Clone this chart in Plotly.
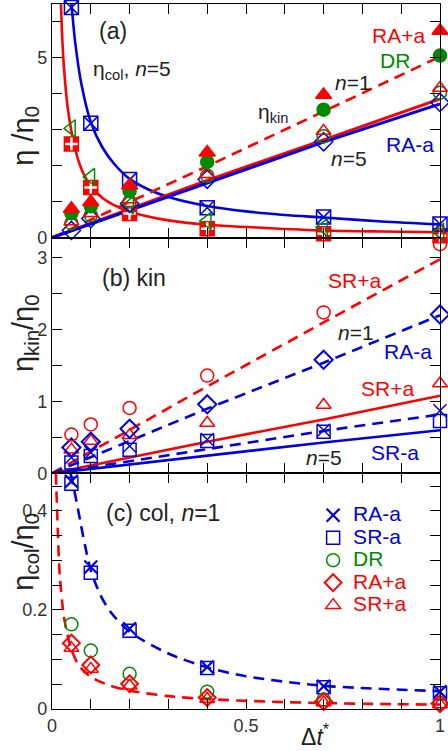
import plotly.graph_objects as go
from plotly.subplots import make_subplots

# ---------------- data ----------------
dt = [0.05, 0.1, 0.2, 0.4, 0.7, 1.0]

# panel (a): eta/eta0
a_col5_minus = [6.38, 3.17, 1.61, 0.83, 0.57, 0.38]
a_col5_plus = [2.6, 1.39, 0.67, 0.25, 0.11, 0.05]
a_col5_dr = [3.03, 1.68, 0.90, 0.46, 0.29, 0.16]
a_kin1_ra_plus = [0.80, 0.99, 1.45, 2.36, 3.96, 5.74]
a_kin1_dr = [0.68, 0.87, 1.29, 2.10, 3.55, 5.05]
a_kin5_sr_plus = [0.45, 0.68, 1.06, 1.76, 2.96, 4.15]
a_kin5_dr = [0.40, 0.62, 1.00, 1.72, 2.81, 4.02]
a_kin5_ra_minus = [0.20, 0.53, 0.95, 1.62, 2.66, 3.75]

a_curve_blue_x = [0.05, 0.06, 0.075, 0.1, 0.13, 0.16, 0.2, 0.25, 0.3, 0.4, 0.5, 0.6, 0.7, 0.85, 1.0]
a_curve_blue_y = [6.5, 5.4, 4.3, 3.2, 2.5, 2.05, 1.63, 1.33, 1.13, 0.88, 0.73, 0.63, 0.56, 0.45, 0.37]
a_curve_red_x = [0.023, 0.027, 0.032, 0.04, 0.05, 0.065, 0.08, 0.1, 0.13, 0.16, 0.2, 0.3, 0.4, 0.55, 0.7, 0.85, 1.0]
a_curve_red_y = [6.5, 5.4, 4.55, 3.65, 2.95, 2.25, 1.8, 1.43, 1.1, 0.9, 0.72, 0.48, 0.36, 0.27, 0.2, 0.17, 0.15]
a_line_x = [0.0, 0.4, 0.7, 1.0]
a_kin1_fit = [0.0, 1.98, 3.5, 5.02]
a_kin5_fit_red = [0.0, 1.59, 2.71, 3.85]
a_kin5_fit_blue = [0.0, 1.51, 2.65, 3.71]

# panel (b): eta_kin/eta0
b_sr_plus_n1 = [0.54, 0.68, 0.91, 1.36, 2.24, 3.19]
b_ra_minus_n1 = [0.36, 0.44, 0.62, 0.96, 1.58, 2.21]
b_sr_plus_n5 = [0.33, 0.45, 0.53, 0.70, 0.95, 1.25]
b_ra_minus_n5 = [0.22, 0.29, 0.38, 0.47, 0.60, 0.87]
b_sr_minus_n5 = [0.15, 0.24, 0.33, 0.45, 0.58, 0.73]
b_line_x = [0.0, 0.4, 0.7, 1.0]
b_fit_sr_plus_n1 = [0.0, 1.21, 2.1, 2.98]
b_fit_ra_minus_n1 = [0.0, 0.9, 1.54, 2.2]
b_fit_sr_plus_n5 = [0.0, 0.44, 0.75, 1.08]
b_fit_ra_minus_n5 = [0.0, 0.34, 0.59, 0.82]
b_fit_sr_minus_n5 = [0.0, 0.25, 0.43, 0.60]

# panel (c): eta_col/eta0, n=1
c_ra_minus = [0.46, 0.287, 0.162, 0.085, 0.046, 0.035]
c_sr_minus = [0.455, 0.275, 0.158, 0.083, 0.044, 0.032]
c_dr = [0.171, 0.118, 0.071, 0.035, 0.019, 0.011]
c_ra_plus = [0.133, 0.089, 0.051, 0.023, 0.015, 0.011]
c_sr_plus = [0.123, 0.081, 0.047, 0.020, 0.013, 0.009]
c_curve_blue_x = [0.048, 0.063, 0.08, 0.1, 0.125, 0.15, 0.2, 0.3, 0.4, 0.5, 0.7, 1.0]
c_curve_blue_y = [0.476, 0.42, 0.35, 0.28, 0.23, 0.197, 0.156, 0.112, 0.084, 0.066, 0.047, 0.036]
c_curve_red_x = [0.01, 0.015, 0.02, 0.03, 0.04, 0.05, 0.07, 0.1, 0.15, 0.2, 0.3, 0.4, 0.55, 0.7, 0.85, 1.0]
c_curve_red_y = [0.476, 0.36, 0.27, 0.19, 0.15, 0.12, 0.087, 0.065, 0.047, 0.037, 0.026, 0.02, 0.015, 0.012, 0.01, 0.009]

# ---------------- style ----------------
RED = "#ff0000"
BLUE = "#0000e0"
GREEN = "#008a00"
DARK = "#222222"
FONT = "Liberation Sans, Arial, sans-serif"

fig = make_subplots(rows=3, cols=1, shared_xaxes=True, vertical_spacing=0,
                    row_heights=[234, 236, 236])


def line(x, y, color, row, dash="solid", width=2.6, shape="linear"):
    fig.add_trace(go.Scatter(x=x, y=y, mode="lines", showlegend=False,
                             line=dict(color=color, width=width, dash=dash, shape=shape, smoothing=0.8),
                             hoverinfo="skip"), row=row, col=1)


def pts(y, symbol, color, row, size=13, lw=1.5, name=None, legend=False, lcolor=None):
    m = dict(symbol=symbol, size=size, color=color,
             line=dict(color=lcolor or color, width=lw))
    fig.add_trace(go.Scatter(x=dt, y=y, mode="markers", marker=m, cliponaxis=False,
                             showlegend=legend, name=name), row=row, col=1)


def lname(text, color):
    return '<span style="color:%s;font-size:21px">%s</span>' % (color, text)


DASH = "11px,7px"

# panel (a)
line(a_curve_red_x, a_curve_red_y, RED, 1, shape="spline")
line(a_curve_blue_x, a_curve_blue_y, BLUE, 1, shape="spline")
line(a_line_x, a_kin1_fit, RED, 1, dash=DASH)
line(a_line_x, a_kin5_fit_red, RED, 1, width=3)
line(a_line_x, a_kin5_fit_blue, BLUE, 1, width=3)
pts(a_col5_plus, "square", RED, 1, size=14)
pts(a_col5_plus, "cross-thin-open", "white", 1, size=9, lw=2.5)
pts(a_col5_minus, "square-open", BLUE, 1, size=14)
pts(a_col5_minus, "x-thin-open", BLUE, 1, size=14)
pts(a_col5_dr, "triangle-left-open", GREEN, 1, size=15)
pts(a_kin5_ra_minus, "diamond-open", BLUE, 1, size=14)
pts(a_kin5_dr, "circle-open", GREEN, 1)
pts(a_kin5_sr_plus, "triangle-up-open", RED, 1)
pts(a_kin1_dr, "circle", GREEN, 1)
pts(a_kin1_ra_plus, "triangle-up", RED, 1, size=14)

# panel (b)
line(b_line_x, b_fit_sr_plus_n1, RED, 2, dash=DASH)
line(b_line_x, b_fit_ra_minus_n1, BLUE, 2, dash=DASH)
line(b_line_x, b_fit_sr_plus_n5, RED, 2)
line(b_line_x, b_fit_ra_minus_n5, BLUE, 2, dash=DASH)
line(b_line_x, b_fit_sr_minus_n5, BLUE, 2)
pts(b_sr_minus_n5, "square-open", BLUE, 2)
pts(b_ra_minus_n5, "x-thin-open", BLUE, 2)
pts(b_sr_plus_n5, "triangle-up-open", RED, 2)
pts(b_ra_minus_n1, "diamond-open", BLUE, 2, size=14, lw=2)
pts(b_sr_plus_n1, "circle-open", RED, 2)

# panel (c)
line(c_curve_red_x, c_curve_red_y, RED, 3, dash=DASH, shape="spline")
line(c_curve_blue_x, c_curve_blue_y, BLUE, 3, dash=DASH, shape="spline")
pts(c_ra_minus, "x-thin-open", BLUE, 3, lw=2.2, legend=True, name=lname("RA-a", BLUE))
pts(c_sr_minus, "square-open", BLUE, 3, legend=True, name=lname("SR-a", BLUE))
pts(c_dr, "circle-open", GREEN, 3, legend=True, name=lname("DR", GREEN))
pts(c_ra_plus, "diamond-open", RED, 3, lw=2, legend=True, name=lname("RA+a", RED))
pts(c_sr_plus, "triangle-up-open", RED, 3, legend=True, name=lname("SR+a", RED))

# ---------------- axes ----------------
axis_common = dict(showline=True, linecolor="black", linewidth=1.2, mirror="allticks",
                   ticks="inside", ticklen=10, tickwidth=1.3, tickcolor="black",
                   showgrid=False, zeroline=False,
                   tickfont=dict(family=FONT, size=18, color="#333333"))

for r in (1, 2, 3):
    fig.update_xaxes(range=[0, 1], tickvals=[0, 0.5, 1], ticktext=["0", "0.5", "1"],
                     ticklabeloverflow="allow",
                     minor=dict(dtick=0.1, tick0=0, ticks="inside", ticklen=10,
                                tickwidth=1.3, tickcolor="black"),
                     row=r, col=1, **axis_common)
fig.update_xaxes(showticklabels=False, row=1, col=1)
fig.update_xaxes(showticklabels=False, row=2, col=1)

fig.update_yaxes(range=[0, 6.48], tickvals=[0, 5], ticktext=["0", "5"],
                 minor=dict(dtick=1, tick0=0, ticks="inside", ticklen=10, tickwidth=1.3, tickcolor="black"),
                 row=1, col=1, **axis_common)
fig.update_yaxes(range=[0, 3.28], tickvals=[0, 1, 2, 3], ticktext=["0", "1", "2", "3"],
                 minor=dict(dtick=0.5, tick0=0, ticks="inside", ticklen=10, tickwidth=1.3, tickcolor="black"),
                 row=2, col=1, **axis_common)
fig.update_yaxes(range=[0, 0.476], tickvals=[0, 0.2, 0.4], ticktext=["0", "0.2", "0.4"],
                 minor=dict(dtick=0.05, tick0=0, ticks="inside", ticklen=10, tickwidth=1.3, tickcolor="black"),
                 row=3, col=1, **axis_common)

# ---------------- annotations ----------------
def note(text, x, y, row, color=DARK, size=21):
    xr = "x" if row == 1 else "x%d" % row
    yr = "y" if row == 1 else "y%d" % row
    fig.add_annotation(text=text, x=x, y=y, xref=xr, yref=yr, showarrow=False,
                       xanchor="center", yanchor="middle",
                       font=dict(family=FONT, size=size, color=color))


note("(a)", 0.156, 5.72, 1, size=23)
note("η<sub>col</sub>, <i>n</i>=5", 0.205, 4.66, 1)
note("RA+a", 0.892, 5.6, 1, color=RED)
note("DR", 0.883, 4.91, 1, color=GREEN)
note("<i>n</i>=1", 0.777, 4.31, 1)
note("η<sub>kin</sub>", 0.57, 3.45, 1)
note("RA-a", 0.923, 2.58, 1, color=BLUE)
note("<i>n</i>=5", 0.765, 2.20, 1)

note("(b) kin", 0.212, 2.72, 2, size=23)
note("SR+a", 0.78, 2.68, 2, color=RED)
note("<i>n</i>=1", 0.783, 1.96, 2)
note("RA-a", 0.918, 1.69, 2, color=BLUE)
note("SR+a", 0.864, 1.18, 2, color=RED)
note("<i>n</i>=5", 0.70, 0.22, 2)
note("SR-a", 0.885, 0.29, 2, color=BLUE)

note("(c) col, <i>n</i>=1", 0.285, 0.395, 3, size=23)

for txt, yp in (("η /η<sub>0</sub>", 0.813),
                ("η<sub>kin</sub>/η<sub>0</sub>", 0.533),
                ("η<sub>col</sub>/η<sub>0</sub>", 0.223)):
    fig.add_annotation(text=txt, x=-0.07, y=yp, xref="paper", yref="paper",
                       textangle=-90, showarrow=False, xanchor="center", yanchor="middle",
                       font=dict(family=FONT, size=29, color=DARK))

fig.add_annotation(text="Δ<i>t</i><sup>*</sup>", x=0.68, y=-0.037, xref="paper", yref="paper",
                   showarrow=False, xanchor="center", yanchor="middle",
                   font=dict(family=FONT, size=23, color=DARK))

fig.update_layout(width=448, height=751, margin=dict(l=52, r=5, t=3, b=42),
                  plot_bgcolor="white", paper_bgcolor="white",
                  font=dict(family=FONT, color=DARK),
                  legend=dict(x=0.673, y=0.298, xanchor="left", yanchor="top",
                              bgcolor="rgba(0,0,0,0)", tracegroupgap=0,
                              font=dict(family=FONT, size=15), itemwidth=30))

fig.write_html("out.html", config={"displayModeBar": False},
               post_script="document.body.style.margin='0px';document.body.style.overflow='hidden';")
